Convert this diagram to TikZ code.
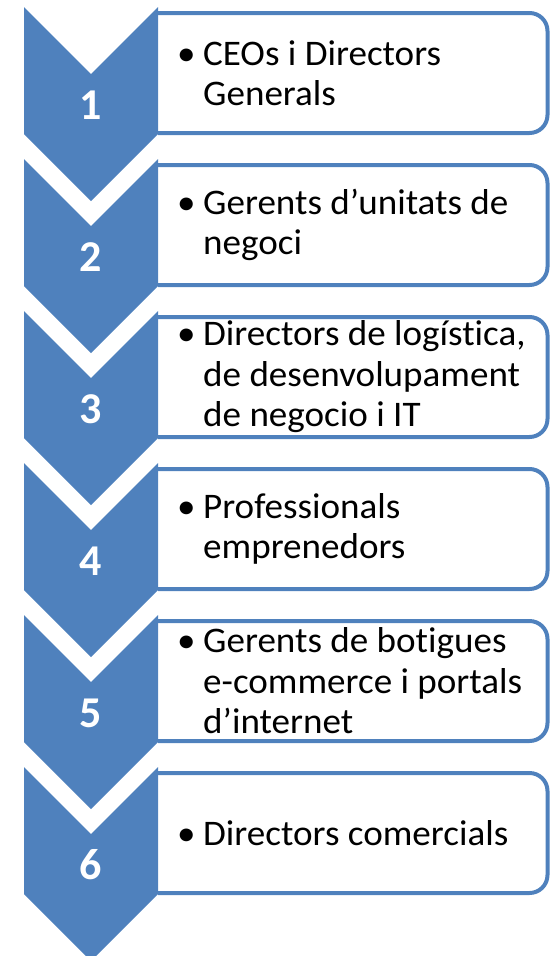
\documentclass[tikz,border=0pt]{standalone}
\usepackage{fontspec}
\setmainfont{Carlito}[Ligatures=NoCommon]
\newfontfamily\itemfont{Carlito}[Ligatures=NoCommon,FakeStretch=1.03]
\newfontfamily\numfont{Carlito}
\definecolor{accent}{HTML}{4F81BD}
\newcommand{\itbul}{\makebox[29pt][l]{\hspace{3pt}•}}
\newcommand{\itind}{\hspace*{29pt}}
\begin{document}
\begin{tikzpicture}[x=1pt,y=-1pt,
  chev/.style={fill=accent,draw=none},
  listbox/.style={draw=accent,line width=4pt,rounded corners=18pt},
  num/.style={text=white,font=\numfont\fontsize{44}{50}\selectfont\bfseries,inner sep=0pt},
  item/.style={anchor=west,align=left,inner sep=0pt,font=\itemfont\fontsize{36}{40.5}\selectfont}]
\useasboundingbox (0,0) rectangle (550,956);
\clip (0,0) rectangle (550,956);
% boxes
\foreach \t in {7,159,311,463,615,767}{
  \draw[listbox] (158,\t+6) -- (547.5,\t+6) -- (547.5,\t+126) -- (158,\t+126);
}
% chevrons
\foreach \t in {7,159,311,463,615,767}{
  \fill[chev] (24,\t) -- (91,\t+67) -- (158,\t) -- (158,\t+127) -- (91,\t+194) -- (24,\t+127) -- cycle;
}
% numbers
\node[num] (n1) at (91,105) {1};
\node[num] (n2) at (91,257) {2};
\node[num] (n3) at (91,409) {3};
\node[num] (n4) at (91,561) {4};
\node[num] (n5) at (91,713) {5};
\node[num] (n6) at (91,865) {6};
% texts
\node[item] (i1) at (174,73) {\itbul CEOs i Directors\\\itind Generals};
\node[item] (i2) at (174,225) {\itbul Gerents d’unitats de\\\itind negoci};
\node[item] (i3) at (174,377) {\itbul Directors de logística,\\\itind de desenvolupament\\\itind de negocio i IT};
\node[item] (i4) at (174,529) {\itbul Professionals\\\itind emprenedors};
\node[item] (i5) at (174,681) {\itbul Gerents de botigues\\\itind e-commerce i portals\\\itind d’internet};
\node[item] (i6) at (174,833) {\itbul Directors comercials};
\end{tikzpicture}
\end{document}
